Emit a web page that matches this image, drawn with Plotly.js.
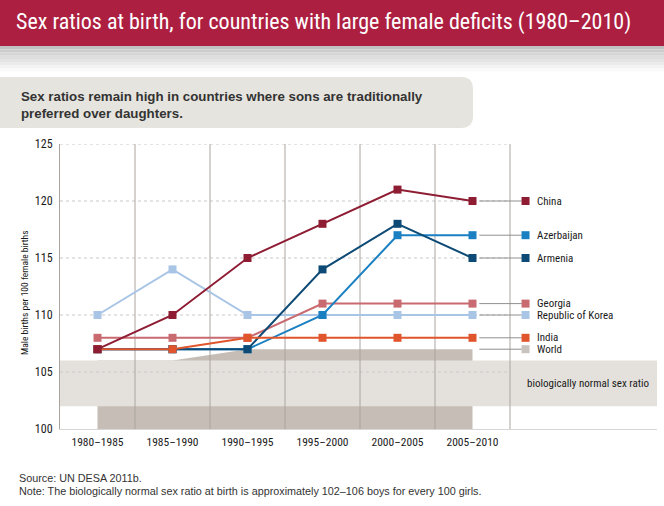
<!DOCTYPE html>
<html>
<head>
<meta charset="utf-8">
<script src="https://cdn.plot.ly/plotly-3.0.1.min.js"></script>
<style>html,body{margin:0;padding:0;background:#fff;}#chart{width:664px;height:506px;}</style>
</head>
<body>
<div id="chart"></div>
<script>
// ---- data ----
const periods = ['1980–1985','1985–1990','1990–1995','1995–2000','2000–2005','2005–2010'];
const seriesNames = ['China','Azerbaijan','Armenia','Georgia','Republic of Korea','India','World'];
const china      = [107,110,115,118,121,120];
const azerbaijan = [107,107,107,110,117,117];
const armenia    = [107,107,107,114,118,115];
const georgia    = [108,108,108,111,111,111];
const korea      = [110,114,110,110,110,110];
const india      = [107,107,108,108,108,108];
const world      = [106,106,107,107,107,107];
const normalRange = [102,106];
const yTicks = [100,105,110,115,120,125];

// ---- styling ----
const NARROW = "'Liberation Sans Narrow', 'Arial Narrow', 'Roboto Condensed', Arial, sans-serif";
const ARIAL = "Arial, 'Liberation Sans', sans-serif";
const colors = {
  'China':'#8e1c33','Azerbaijan':'#1b80c2','Armenia':'#0d4a75','Georgia':'#c96a70',
  'Republic of Korea':'#a9c5e6','India':'#e0552b','World':'#c9c3bd'
};
const L=60, T=144, W=597, H=285;
const px = x => (x-L)/W;
const py = y => (T+H-y)/H;
const xs = periods.map((_,i)=>i);
const xMin = -0.5, xMax = -0.5 + W/75;
const xLast = xs[xs.length-1];
const legendX = xLast + 0.707, labelX = xLast + 0.84;

const valuesByName = {
  'China':china,'Azerbaijan':azerbaijan,'Armenia':armenia,'Georgia':georgia,
  'Republic of Korea':korea,'India':india,'World':world
};

const traces = [];
// World area
traces.push({x:xs, y:world, type:'scatter', mode:'lines', fill:'tozeroy',
  fillcolor:'#c6beb6', line:{width:0, color:'#c6beb6'}, hoverinfo:'skip', showlegend:false});
// biologically normal band
traces.push({x:[xMin,xMax,xMax,xMin], y:[normalRange[0],normalRange[0],normalRange[1],normalRange[1]],
  type:'scatter', mode:'lines', fill:'toself', fillcolor:'#e4e1dc', line:{width:0},
  hoverinfo:'skip', showlegend:false});
// horizontal dotted gridlines
yTicks.slice(1).forEach(v=>{
  traces.push({x:[xMin, xLast+0.5], y:[v,v], type:'scatter', mode:'lines',
    line:{color:'#c9c9c9', width:1, dash:'dot'}, hoverinfo:'skip', showlegend:false});
});
// vertical separators
xs.forEach(i=>{
  traces.push({x:[i+0.5,i+0.5], y:[yTicks[0], yTicks[yTicks.length-1]], type:'scatter', mode:'lines',
    line:{color:'#aaa49f', width:1}, hoverinfo:'skip', showlegend:false});
});
// connector lines to legend
seriesNames.forEach(n=>{
  const v = valuesByName[n][xLast];
  traces.push({x:[xLast+0.09, legendX-0.05], y:[v,v], type:'scatter', mode:'lines',
    line:{color:'#8f8f8f', width:1}, hoverinfo:'skip', showlegend:false});
});
// series (bottom to top)
['Republic of Korea','Georgia','Azerbaijan','Armenia','India','China'].forEach(n=>{
  traces.push({x:xs, y:valuesByName[n], type:'scatter', mode:'lines+markers', name:n,
    line:{color:colors[n], width:2}, marker:{symbol:'square', size:8, color:colors[n]},
    showlegend:false});
});
// legend markers
seriesNames.forEach(n=>{
  traces.push({x:[legendX], y:[valuesByName[n][xLast]], type:'scatter', mode:'markers',
    marker:{symbol:'square', size:8, color:colors[n]}, hoverinfo:'skip', showlegend:false});
});

const annotations = [];
seriesNames.forEach(n=>{
  annotations.push({x:labelX, y:valuesByName[n][xLast], xref:'x', yref:'y', text:n, showarrow:false,
    xanchor:'left', yanchor:'middle', borderpad:0, font:{family:NARROW, size:11, color:'#1a1a1a'}});
});
annotations.push({x:px(588), y:(normalRange[0]+normalRange[1])/2, xref:'paper', yref:'y',
  text:'biologically normal sex ratio', showarrow:false, xanchor:'center', yanchor:'middle',
  font:{family:NARROW, size:11, color:'#1a1a1a'}});
annotations.push({x:px(24), y:py(293), xref:'paper', yref:'paper', text:'Male births per 100 female births',
  textangle:-90, showarrow:false, xanchor:'center', yanchor:'middle',
  font:{family:NARROW, size:9.5, color:'#1a1a1a'}});
annotations.push({x:px(14), y:py(22), xref:'paper', yref:'paper',
  text:'Sex ratios at birth, for countries with large female deficits (1980–2010)',
  showarrow:false, xanchor:'left', yanchor:'middle', font:{family:NARROW, size:22, color:'#ffffff'}});
annotations.push({x:px(19), y:py(105), xref:'paper', yref:'paper', align:'left',
  text:'<b>Sex ratios remain high in countries where sons are traditionally<br>preferred over daughters.</b>',
  showarrow:false, xanchor:'left', yanchor:'middle', font:{family:ARIAL, size:13.3, color:'#333333'}});
annotations.push({x:px(17), y:py(478), xref:'paper', yref:'paper', text:'Source: UN DESA 2011b.',
  showarrow:false, xanchor:'left', yanchor:'middle', font:{family:ARIAL, size:10.8, color:'#333333'}});
annotations.push({x:px(17), y:py(491), xref:'paper', yref:'paper',
  text:'Note: The biologically normal sex ratio at birth is approximately 102–106 boys for every 100 girls.',
  showarrow:false, xanchor:'left', yanchor:'middle', font:{family:ARIAL, size:10.8, color:'#333333'}});

const shapes = [];
shapes.push({type:'rect', xref:'paper', yref:'paper', x0:px(0), x1:px(664), y0:py(46), y1:py(0),
  fillcolor:'#ad1f41', line:{width:0}, layer:'below'});
// gradient strip below header
const steps = 9;
for (let k=0;k<steps;k++){
  const t = k/(steps-1);
  const c = Math.round(0xc0 + (0xff-0xc0)*Math.pow(t,0.8));
  const y0 = 46 + k*3.2, y1 = y0 + 3.3;
  shapes.push({type:'rect', xref:'paper', yref:'paper', x0:px(0), x1:px(664), y0:py(y1), y1:py(y0),
    fillcolor:`rgb(${c},${c},${c})`, line:{width:0}, layer:'below'});
}
// subtitle box (rounded right corners)
const r = 12, bx1 = 473, by0 = 77, by1 = 128;
shapes.push({type:'path', xref:'paper', yref:'paper', layer:'below',
  path:`M ${px(0)},${py(by0)} L ${px(bx1-r)},${py(by0)} Q ${px(bx1)},${py(by0)} ${px(bx1)},${py(by0+r)} `+
       `L ${px(bx1)},${py(by1-r)} Q ${px(bx1)},${py(by1)} ${px(bx1-r)},${py(by1)} L ${px(0)},${py(by1)} Z`,
  fillcolor:'#e6e4de', line:{width:0}});

const layout = {
  width:664, height:506, margin:{l:L, r:664-L-W, t:T, b:506-T-H},
  paper_bgcolor:'#ffffff', plot_bgcolor:'#ffffff', showlegend:false,
  xaxis:{range:[xMin,xMax], tickvals:xs, ticktext:periods, showgrid:false, zeroline:false,
    showline:true, linecolor:'#d6d6d6', linewidth:1, ticks:'', ticklabelstandoff:2, fixedrange:true,
    tickfont:{family:NARROW, size:11.5, color:'#1a1a1a'}},
  yaxis:{range:[yTicks[0], yTicks[yTicks.length-1]], tickvals:yTicks, showgrid:false, zeroline:false,
    showline:true, linecolor:'#aaa49f', linewidth:1, ticks:'', ticklabelstandoff:4, fixedrange:true,
    tickfont:{family:NARROW, size:12, color:'#1a1a1a'}},
  annotations, shapes
};
Plotly.newPlot('chart', traces, layout, {displayModeBar:false, staticPlot:true});
</script>
</body>
</html>
